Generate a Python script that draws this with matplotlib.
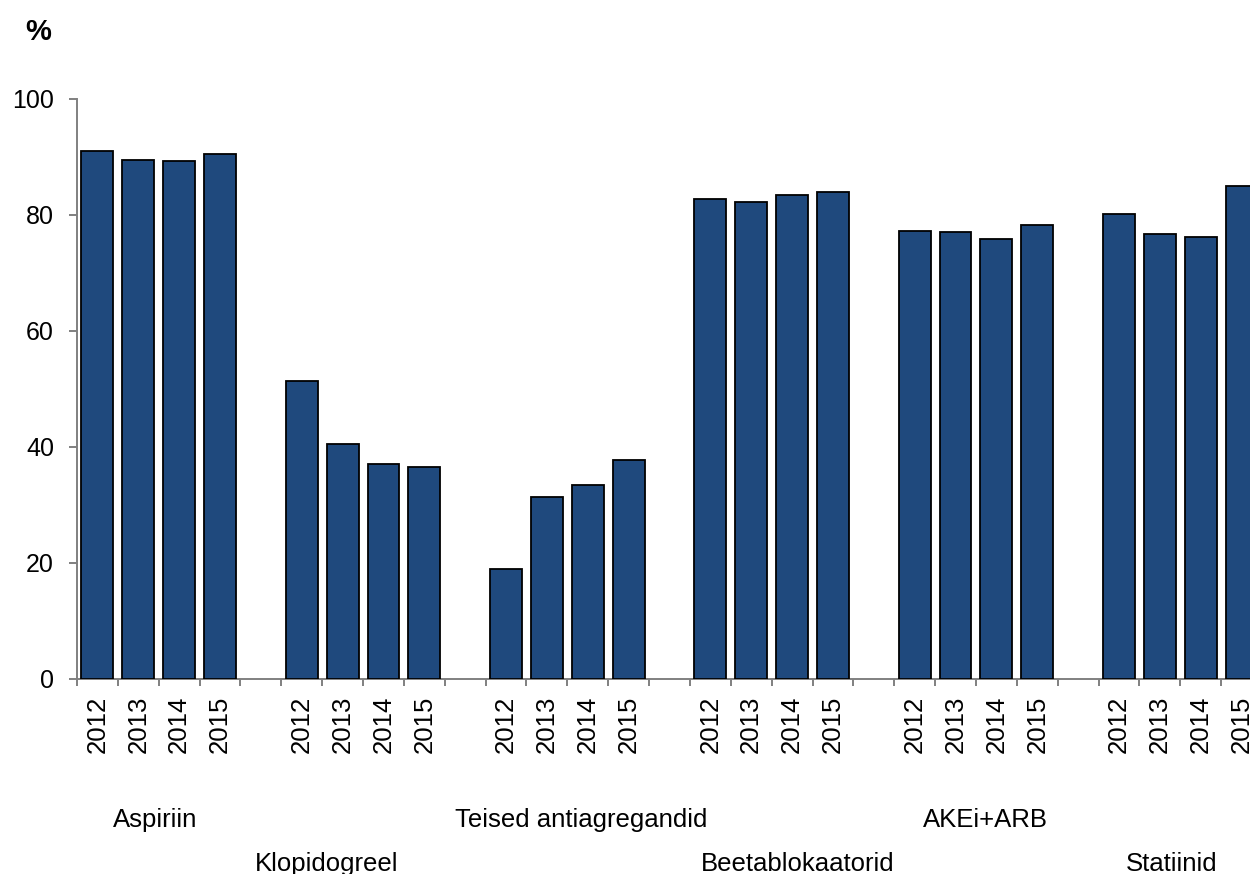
import matplotlib.pyplot as plt
import matplotlib.transforms as mtransforms
import numpy as np

plt.rcParams['font.family'] = ['Liberation Sans', 'DejaVu Sans']

groups = ["Aspiriin", "Klopidogreel", "Teised antiagregandid",
          "Beetablokaatorid", "AKEi+ARB", "Statiinid"]
years = ["2012", "2013", "2014", "2015"]

values = [
    [91.1, 89.4, 89.3, 90.5],   # Aspiriin
    [51.4, 40.5, 37.1, 36.6],   # Klopidogreel
    [19.0, 31.3, 33.4, 37.8],   # Teised antiagregandid
    [82.8, 82.3, 83.4, 83.9],   # Beetablokaatorid
    [77.3, 77.1, 75.9, 78.2],   # AKEi+ARB
    [80.1, 76.8, 76.2, 85.0],   # Statiinid
]

# where the group names sit (x in slot units), two staggered rows
label_x = [1.41, 5.6, 11.85, 17.13, 21.73, 26.3]
label_row = [0, 1, 0, 1, 0, 1]

bar_color = "#1F497D"
axis_gray = "#808080"

fig = plt.figure(figsize=(12.5, 8.74), dpi=100)
ax = fig.add_axes([77 / 1250, 1 - 679 / 874, 1185 / 1250, 580 / 874])

slots = len(groups) * 5 - 1
positions = []
heights = []
tick_labels = []
for g, vals in enumerate(values):
    for j, v in enumerate(vals):
        positions.append(g * 5 + j)
        heights.append(v)
        tick_labels.append(years[j])

ax.bar(positions, heights, width=0.78, color=bar_color,
       edgecolor="black", linewidth=1.3, zorder=3)

ax.set_xlim(-0.5, slots - 0.5)
ax.set_ylim(0, 100)
ax.set_yticks(np.arange(0, 101, 20))

ax.set_xticks(positions)
ax.set_xticklabels(tick_labels, rotation=90, fontsize=18.5)
ax.set_xticks(np.arange(-0.5, slots, 1.0), minor=True)
ax.tick_params(axis="x", which="major", length=0, pad=12)
ax.tick_params(axis="x", which="minor", length=5, width=1.4, color=axis_gray)
ax.tick_params(axis="y", length=5.5, width=1.4, color=axis_gray,
               labelsize=18, pad=11)

for side in ["top", "right"]:
    ax.spines[side].set_visible(False)
for side in ["left", "bottom"]:
    ax.spines[side].set_color(axis_gray)
    ax.spines[side].set_linewidth(1.4)

trans = mtransforms.blended_transform_factory(ax.transData, ax.transAxes)
row_y = [-0.255, -0.331]
for name, x, r in zip(groups, label_x, label_row):
    ax.text(x, row_y[r], name, transform=trans, ha="center", va="baseline",
            fontsize=18.5, clip_on=False)

fig.text(25 / 1250, 1 - 40 / 874, "%", fontsize=21, fontweight="bold",
         ha="left", va="baseline")

fig.savefig("out.png", dpi=100)
